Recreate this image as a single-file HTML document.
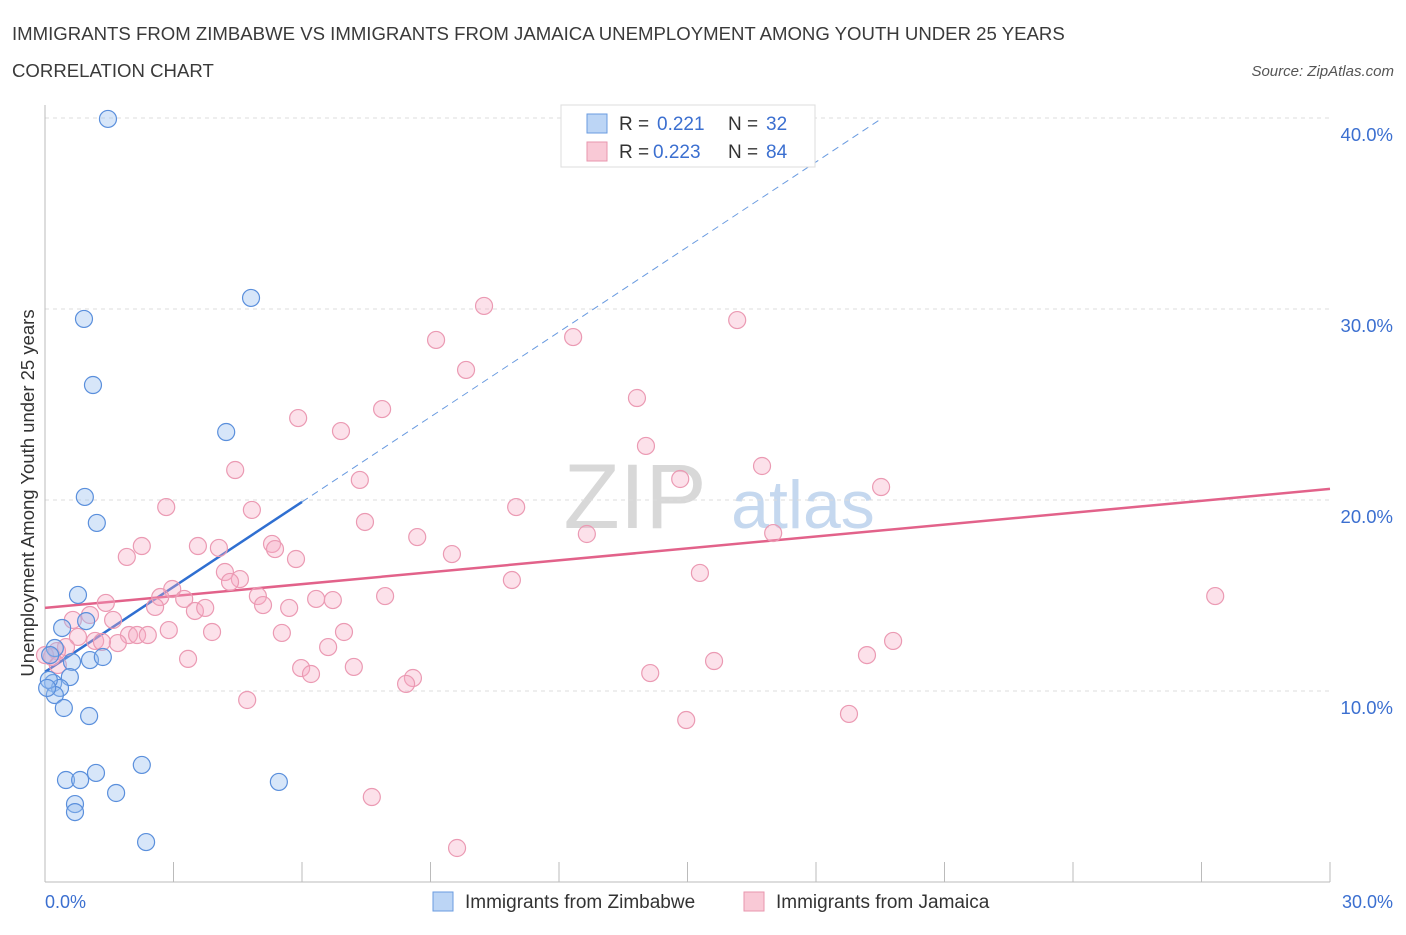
<!DOCTYPE html>
<html><head><meta charset="utf-8"><style>
body{margin:0;background:#fff;font-family:"Liberation Sans",sans-serif;}
svg text{font-family:"Liberation Sans",sans-serif;}
</style></head><body>
<svg id="chart" width="1406" height="930" viewBox="0 0 1406 930">
<text x="12" y="40" font-size="18.6" fill="#3a3a3a">IMMIGRANTS FROM ZIMBABWE VS IMMIGRANTS FROM JAMAICA UNEMPLOYMENT AMONG YOUTH UNDER 25 YEARS</text>
<text x="12" y="77" font-size="18.6" fill="#3a3a3a">CORRELATION CHART</text>
<text x="1394" y="76" font-size="15" fill="#555" font-style="italic" text-anchor="end">Source: ZipAtlas.com</text>
<g>
<text x="635" y="528" font-size="92" fill="#d8d8d8" font-family="Liberation Serif" text-anchor="middle">ZIP</text>
<text x="803" y="528" font-size="68" fill="#c5d8ef" text-anchor="middle">atlas</text>
</g>
<g id="grid"></g>
<line x1="45" y1="105" x2="45" y2="882" stroke="#bbb"/>
<line x1="45" y1="882" x2="1330" y2="882" stroke="#bbb"/>
<g id="ticks"></g>
<text x="34" y="493" font-size="18.5" fill="#333" text-anchor="middle" transform="rotate(-90 34 493)">Unemployment Among Youth under 25 years</text>
<text x="45" y="908" font-size="18" fill="#3b6fd0">0.0%</text>
<text x="1393" y="908" font-size="18" fill="#3b6fd0" text-anchor="end">30.0%</text>
<g id="lines"></g>
<g id="points"></g>
<g>
<rect x="561" y="105" width="254" height="62" fill="#fff" stroke="#ddd"/>
<rect x="587" y="114" width="20" height="19" fill="#bcd5f5" stroke="#6a9be0"/>
<text x="619" y="130" font-size="19" fill="#333">R =</text>
<text x="657" y="130" font-size="19" fill="#3b6fd0">0.221</text>
<text x="728" y="130" font-size="19" fill="#333">N =</text>
<text x="766" y="130" font-size="19" fill="#3b6fd0">32</text>
<rect x="587" y="142" width="20" height="19" fill="#f9c9d6" stroke="#e896ae"/>
<text x="619" y="158" font-size="19" fill="#333">R =</text>
<text x="653" y="158" font-size="19" fill="#3b6fd0">0.223</text>
<text x="728" y="158" font-size="19" fill="#333">N =</text>
<text x="766" y="158" font-size="19" fill="#3b6fd0">84</text>
</g>
<g>
<rect x="433" y="892" width="20" height="19" fill="#bcd5f5" stroke="#6a9be0"/>
<text x="465" y="908" font-size="19" fill="#333">Immigrants from Zimbabwe</text>
<rect x="744" y="892" width="20" height="19" fill="#f9c9d6" stroke="#e896ae"/>
<text x="776" y="908" font-size="19" fill="#333">Immigrants from Jamaica</text>
</g>
</svg>
<script>
const yTicks=[10,20,30,40];
const yTickLabels=["10.0%","20.0%","30.0%","40.0%"];
const xTickCount=10;
const zimX=[1.47,4.81,0.91,1.12,4.23,0.93,1.21,0.77,0.40,0.96,0.63,1.05,1.35,0.23,0.12,0.58,0.19,0.35,0.23,0.44,1.03,0.09,0.49,0.82,1.19,2.26,1.66,0.70,0.70,2.36,5.46,0.05];
const zimY=[39.95,30.58,29.48,26.02,23.56,20.16,18.80,15.03,13.30,13.66,11.52,11.62,11.78,12.25,11.88,10.73,10.42,10.16,9.79,9.11,8.69,10.58,5.34,5.34,5.71,6.13,4.66,4.08,3.66,2.09,5.24,10.16];
const jamX=[10.25,16.16,12.33,9.13,9.83,13.82,7.87,5.91,6.91,14.03,16.74,4.44,7.35,14.83,19.52,2.83,4.83,11.00,7.47,12.65,8.69,17.00,2.26,3.57,4.06,5.30,5.37,9.50,1.91,5.86,15.29,4.20,4.55,4.32,10.90,2.97,2.69,3.25,4.97,7.94,27.32,6.33,6.72,1.42,5.09,2.57,3.50,3.74,5.70,1.05,0.65,1.59,2.89,3.90,5.53,6.98,1.96,2.15,2.40,0.77,1.17,1.70,1.33,19.80,6.61,0.49,0.28,0.16,3.34,15.62,19.19,5.98,7.21,6.21,14.13,8.59,8.43,4.72,18.77,14.97,7.63,9.62,0.30,0.0];
const jamY=[30.16,29.42,28.53,28.38,26.81,25.34,24.76,24.29,23.61,22.83,21.78,21.57,21.05,21.10,20.68,19.63,19.48,19.63,18.85,18.22,18.06,18.27,17.59,17.59,17.49,17.70,17.43,17.17,17.02,16.91,16.18,16.23,15.86,15.71,15.81,15.34,14.92,14.82,14.97,14.97,14.97,14.82,14.76,14.61,14.50,14.40,14.19,14.35,14.35,13.98,13.72,13.72,13.19,13.09,13.04,13.09,12.93,12.93,12.93,12.83,12.62,12.51,12.57,12.62,12.30,12.30,12.09,11.78,11.68,11.57,11.88,11.20,11.26,10.89,10.94,10.68,10.37,9.53,8.80,8.48,4.45,1.78,11.36,11.88];
const zimTrend=[11.0,19.9];   // y at x=0 and x=6
const jamTrend=[14.35,20.58]; // y at x=0 and x=30
const NS="http://www.w3.org/2000/svg";
const xs=v=>45+v*(1285/30);
const ys=v=>882-v*19.1;
function mk(tag,attrs,parent){const e=document.createElementNS(NS,tag);for(const k in attrs)e.setAttribute(k,attrs[k]);document.getElementById(parent).appendChild(e);return e;}
yTicks.forEach((t,i)=>{
 const g=mk('line',{x1:45,x2:1330,y1:ys(t),y2:ys(t),stroke:'#ddd','stroke-dasharray':'4 4'},'grid');
 
 
 const l=mk('text',{x:1393,y:ys(t)+23,'font-size':18.5,fill:'#3b6fd0','text-anchor':'end'},'grid');
 l.textContent=yTickLabels[i];
 
 
});
for(let i=0;i<=xTickCount;i++){
 const x=xs(i*3);
 const t=mk('line',{x1:x,x2:x,y1:862,y2:882,stroke:'#bbb'},'ticks');
 
 
}
const bl=mk('line',{x1:xs(0),y1:ys(zimTrend[0]),x2:xs(6),y2:ys(zimTrend[1]),stroke:'#2f6fd1','stroke-width':2.5},'lines');


const slope=(zimTrend[1]-zimTrend[0])/6;
const xEnd=(40-zimTrend[0])/slope;
const bd=mk('line',{x1:xs(6),y1:ys(zimTrend[1]),x2:xs(xEnd),y2:ys(40),stroke:'#6a9be0','stroke-width':1,'stroke-dasharray':'7 5'},'lines');


const pl=mk('line',{x1:xs(0),y1:ys(jamTrend[0]),x2:xs(30),y2:ys(jamTrend[1]),stroke:'#e2628a','stroke-width':2.5},'lines');


jamX.forEach((v,i)=>{
 const c=mk('circle',{cx:xs(v),cy:ys(jamY[i]),r:8.5,fill:'rgba(246,170,194,0.35)',stroke:'#eb9ab3','stroke-width':1.2},'points');
 
 
});
zimX.forEach((v,i)=>{
 const c=mk('circle',{cx:xs(v),cy:ys(zimY[i]),r:8.5,fill:'rgba(150,190,240,0.38)',stroke:'#5a8fdc','stroke-width':1.2},'points');
 
 
});
</script>
</body></html>
